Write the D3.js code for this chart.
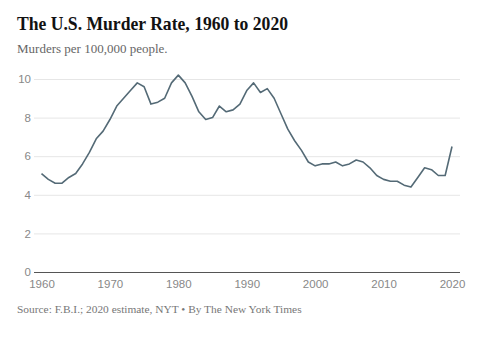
<!DOCTYPE html>
<html>
<head>
<meta charset="utf-8">
<script src="https://cdn.jsdelivr.net/npm/d3@7"></script>
<style>
  html, body { margin: 0; padding: 0; background: #fff; }
  svg { display: block; }
</style>
</head>
<body>
<svg id="chart" width="482" height="343"></svg>
<script>
const years = d3.range(1960, 2021);
const murderRate = [
  5.1, 4.8, 4.6, 4.6, 4.9, 5.1, 5.6, 6.2, 6.9, 7.3,
  7.9, 8.6, 9.0, 9.4, 9.8, 9.6, 8.7, 8.8, 9.0, 9.8,
  10.2, 9.8, 9.1, 8.3, 7.9, 8.0, 8.6, 8.3, 8.4, 8.7,
  9.4, 9.8, 9.3, 9.5, 9.0, 8.2, 7.4, 6.8, 6.3, 5.7,
  5.5, 5.6, 5.6, 5.7, 5.5, 5.6, 5.8, 5.7, 5.4, 5.0,
  4.8, 4.7, 4.7, 4.5, 4.4, 4.9, 5.4, 5.3, 5.0, 5.0,
  6.5
];
const yTicks = [0, 2, 4, 6, 8, 10];
const xTicks = [1960, 1970, 1980, 1990, 2000, 2010, 2020];
const titleText = "The U.S. Murder Rate, 1960 to 2020";
const subtitleText = "Murders per 100,000 people.";
const sourceText = "Source: F.B.I.; 2020 estimate, NYT \u2022 By The New York Times";

const svg = d3.select("#chart");
const x = d3.scaleLinear().domain([1960, 2020]).range([41.5, 452]);
const y = d3.scaleLinear().domain([0, 10]).range([272, 79]);

const serif = "'Liberation Serif', 'Times New Roman', serif";
const sans = "'Liberation Sans', Arial, sans-serif";

svg.append("text").attr("x", 17).attr("y", 30)
  .attr("font-family", serif).attr("font-weight", "bold").attr("font-size", 19)
  .attr("textLength", 271).attr("lengthAdjust", "spacingAndGlyphs")
  .attr("fill", "#121212").text(titleText);
svg.append("text").attr("x", 17).attr("y", 53)
  .attr("font-family", serif).attr("font-size", 13)
  .attr("fill", "#666").text(subtitleText);

// y grid
const yAxis = d3.axisLeft(y).tickValues(yTicks).tickSize(-(460 - 34)).tickPadding(5);
const gy = svg.append("g").attr("transform", "translate(34,0)").call(yAxis);
gy.select(".domain").remove();
gy.selectAll(".tick line").attr("stroke", "#e6e6e6").attr("stroke-width", 1);
gy.selectAll(".tick text").attr("font-family", sans).attr("font-size", 11.5)
  .attr("fill", "#888").attr("x", -3);
gy.selectAll(".tick").filter(d => d === 0).select("line").attr("stroke", "#555");

// x axis
const xAxis = d3.axisBottom(x).tickValues(xTicks).tickFormat(d3.format("d")).tickSize(0).tickPadding(8);
const gx = svg.append("g").attr("transform", "translate(0,272)").call(xAxis);
gx.select(".domain").remove();
gx.selectAll(".tick text").attr("font-family", sans).attr("font-size", 11.5).attr("fill", "#888");

// line
const line = d3.line().x((d, i) => x(years[i])).y(d => y(d));
svg.append("path").datum(murderRate).attr("d", line)
  .attr("fill", "none").attr("stroke", "#546a76").attr("stroke-width", 1.6)
  .attr("stroke-linejoin", "round");

svg.append("text").attr("x", 17).attr("y", 313)
  .attr("font-family", serif).attr("font-size", 11.4)
  .attr("fill", "#777").text(sourceText);
</script>
</body>
</html>
